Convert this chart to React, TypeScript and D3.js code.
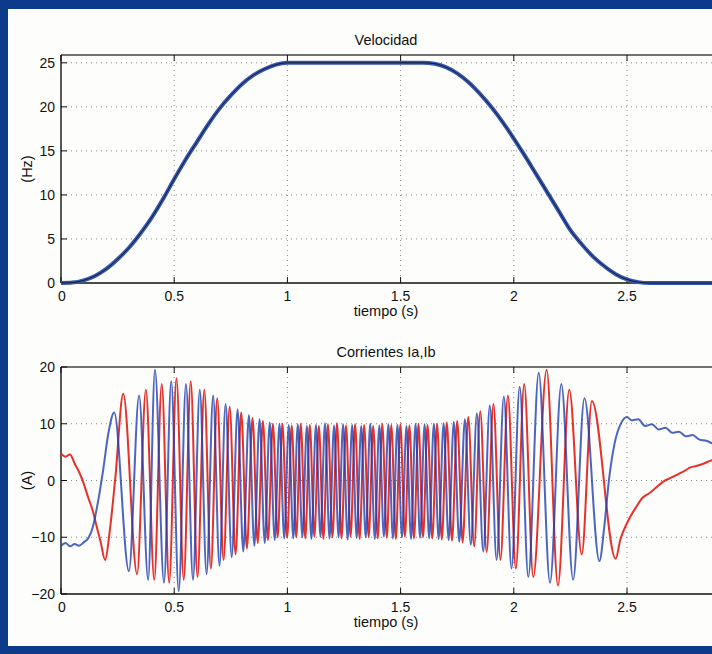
import { useEffect, useRef } from "react";
import * as d3 from "d3";

// velocity profile (s, Hz)
const velTime = [0, 0.05, 0.1, 0.15, 0.2, 0.25, 0.3, 0.35, 0.4, 0.45, 0.5, 0.55, 0.6, 0.65, 0.7, 0.75, 0.8, 0.85, 0.9, 0.95, 1.0, 1.2, 1.4, 1.6, 1.65, 1.7, 1.75, 1.8, 1.85, 1.9, 1.95, 2.0, 2.05, 2.1, 2.15, 2.2, 2.25, 2.3, 2.35, 2.4, 2.45, 2.5, 2.55, 2.6, 2.9];
const velHz = [0, 0.05, 0.3, 0.8, 1.6, 2.7, 4.0, 5.6, 7.4, 9.5, 11.8, 14.0, 16.0, 18.0, 19.8, 21.3, 22.6, 23.6, 24.3, 24.8, 25, 25, 25, 25, 24.9, 24.5, 23.8, 22.8, 21.5, 20.0, 18.3, 16.4, 14.4, 12.3, 10.2, 8.1, 6.0, 4.4, 3.0, 1.9, 1.0, 0.4, 0.1, 0, 0];

// current Ia (red): extrema and slow parts (s, A)
const iaTime = [0, 0.02, 0.04, 0.06, 0.08, 0.1, 0.12, 0.14, 0.16, 0.175, 0.195, 0.215, 0.24, 0.275, 0.336, 0.375, 0.412, 0.445, 0.478, 0.51, 0.542, 0.573, 0.603, 0.633, 0.662, 0.69, 0.718, 0.745, 0.771, 0.796, 0.821, 0.846, 0.869, 0.892, 0.914, 0.936, 0.957, 0.978, 0.999,
  1.019, 1.039, 1.059, 1.079, 1.099, 1.119, 1.139, 1.159, 1.179, 1.199, 1.219, 1.239, 1.259, 1.279, 1.299, 1.319, 1.339, 1.359, 1.379, 1.399, 1.419, 1.439, 1.459, 1.479, 1.499, 1.519, 1.539, 1.559, 1.579, 1.599, 1.619,
  1.64, 1.661, 1.682, 1.704, 1.727, 1.75, 1.774, 1.799, 1.825, 1.852, 1.88, 1.91, 1.941, 1.974, 2.009, 2.046, 2.086, 2.145, 2.195, 2.245, 2.3, 2.345, 2.45,
  2.47, 2.5, 2.54, 2.57, 2.6, 2.63, 2.66, 2.69, 2.72, 2.75, 2.78, 2.81, 2.84, 2.87, 2.92];
const iaAmp = [4.7, 4.2, 4.6, 3.0, 1.5, -0.5, -3.0, -5.3, -8.5, -10.8, -14.0, -9.0, 0.5, 15.3, -16.5, 16.0, -17.5, 17.0, -18.0, 18.0, -17.5, 17.5, -17.0, 16.0, -15.5, 14.5, -14.0, 13.0, -13.0, 12.0, -12.0, 11.0, -11.0, 10.5, -10.5, 10.0, -10.0, 10.0, -10.1,
  9.7, -10.0, 10.0, -10.2, 9.8, -9.9, 9.6, -10.3, 9.9, -10.0, 10.1, -10.2, 9.7, -9.9, 9.9, -10.3, 9.8, -10.0, 9.6, -10.2, 10.0, -10.1, 9.8, -10.3, 9.9, -9.9, 9.7, -10.2, 10.0, -10.0, 9.8,
  -10.2, 10.0, -10.4, 10.2, -10.6, 10.5, -10.9, 11.2, -11.6, 12.2, -12.6, 13.5, -14.0, 15.0, -15.5, 17.0, -17.0, 19.5, -18.5, 16.0, -13.0, 14.0, -13.8,
  -10.5, -7.5, -4.7, -3.0, -2.2, -1.2, -0.2, 0.4, 1.0, 1.6, 2.3, 2.6, 3.0, 3.5, 3.8];

// current Ib (blue)
const ibTime = [0, 0.02, 0.04, 0.06, 0.08, 0.1, 0.12, 0.14, 0.16, 0.186, 0.21, 0.235, 0.3, 0.345, 0.385, 0.415, 0.455, 0.487, 0.52, 0.552, 0.583, 0.613, 0.643, 0.672, 0.7, 0.727, 0.754, 0.78, 0.805, 0.83, 0.854, 0.877, 0.9, 0.922, 0.944, 0.965, 0.986,
  1.006, 1.026, 1.046, 1.066, 1.086, 1.106, 1.126, 1.146, 1.166, 1.186, 1.206, 1.226, 1.246, 1.266, 1.286, 1.306, 1.326, 1.346, 1.366, 1.386, 1.406, 1.426, 1.446, 1.466, 1.486, 1.506, 1.526, 1.546, 1.566, 1.586, 1.606, 1.626,
  1.647, 1.668, 1.69, 1.712, 1.735, 1.759, 1.784, 1.81, 1.837, 1.865, 1.894, 1.924, 1.956, 1.99, 2.026, 2.064, 2.11, 2.16, 2.21, 2.262, 2.312, 2.378,
  2.4, 2.42, 2.445, 2.475, 2.5, 2.52, 2.55, 2.58, 2.61, 2.64, 2.67, 2.7, 2.73, 2.76, 2.79, 2.82, 2.85, 2.88, 2.92];
const ibAmp = [-11.5, -11.0, -11.6, -11.2, -11.5, -10.9, -10.2, -8.3, -4.5, 1.8, 8.5, 12.0, -16.0, 15.0, -17.5, 19.5, -18.0, 17.5, -19.5, 17.0, -17.5, 16.0, -16.5, 15.0, -15.0, 13.5, -13.5, 12.5, -12.5, 11.5, -11.5, 10.8, -11.0, 10.2, -10.5, 10.0, -10.2,
  9.8, -10.2, 9.9, -10.0, 9.6, -10.3, 9.8, -9.9, 10.1, -10.2, 9.7, -10.0, 9.9, -10.4, 9.8, -10.1, 9.6, -10.0, 10.0, -10.3, 9.7, -9.9, 9.9, -10.2, 9.8, -10.0, 9.6, -10.3, 10.0, -10.1, 9.9, -10.2,
  10.0, -10.3, 10.1, -10.5, 10.3, -10.8, 10.8, -11.3, 11.8, -12.5, 13.2, -14.0, 14.8, -15.5, 16.5, -17.0, 19.0, -18.0, 17.0, -17.5, 14.5, -14.2,
  -8.0, 0.0, 6.5, 10.2, 11.2, 10.6, 10.8, 9.6, 9.9, 9.0, 9.3, 8.4, 8.6, 7.8, 8.0, 7.2, 7.0, 6.5, 6.2];

const timeTicks = [0, 0.5, 1, 1.5, 2, 2.5];
const velTicks = [0, 5, 10, 15, 20, 25];
const curTicks = [-20, -10, 0, 10, 20];

const W = 712;
const H = 654;
const font = "'Liberation Sans', Arial, Helvetica, sans-serif";

const App = () => {
  const ref = useRef<SVGSVGElement>(null);

  useEffect(() => {
    const svg = d3.select(ref.current);
    svg.selectAll("*").remove();

    // scanned page frame
    svg.append("rect").attr("width", W).attr("height", H).attr("fill", "#0c3b8c");
    svg.append("rect").attr("x", 8).attr("y", 9).attr("width", W - 8).attr("height", 637).attr("fill", "#fdfdfb");

    const x = d3.scaleLinear().domain([0, 3]).range([61, 61 + 3 * 226.4]);

    const panel = (top: number, bottom: number, y: d3.ScaleLinear<number, number>, yTicks: number[], title: string, yLabel: string) => {
      const g = svg.append("g");
      const right = W + 20;

      // dotted grid
      g.selectAll(".gx").data(timeTicks.slice(1)).join("line")
        .attr("x1", d => x(d)).attr("x2", d => x(d))
        .attr("y1", top).attr("y2", bottom)
        .attr("stroke", "#888").attr("stroke-width", 1).attr("stroke-dasharray", "1,4");
      g.selectAll(".gy").data(yTicks.slice(1, -1).concat(title === "Velocidad" ? [25] : [])).join("line")
        .attr("x1", x(0)).attr("x2", right)
        .attr("y1", d => y(d)).attr("y2", d => y(d))
        .attr("stroke", "#888").attr("stroke-width", 1).attr("stroke-dasharray", "1,4");

      // box
      g.append("line").attr("x1", x(0)).attr("x2", right).attr("y1", top).attr("y2", top).attr("stroke", "#444").attr("stroke-width", 1.3);
      g.append("line").attr("x1", x(0)).attr("x2", right).attr("y1", bottom).attr("y2", bottom).attr("stroke", "#111").attr("stroke-width", 1.4);
      g.append("line").attr("x1", x(0)).attr("x2", x(0)).attr("y1", top).attr("y2", bottom).attr("stroke", "#111").attr("stroke-width", 1.4);

      // inward ticks
      g.selectAll(".tb").data(timeTicks).join("line")
        .attr("x1", d => x(d)).attr("x2", d => x(d)).attr("y1", bottom).attr("y2", bottom - 6).attr("stroke", "#111");
      g.selectAll(".tt").data(timeTicks).join("line")
        .attr("x1", d => x(d)).attr("x2", d => x(d)).attr("y1", top).attr("y2", top + 6).attr("stroke", "#111");
      g.selectAll(".tl").data(yTicks).join("line")
        .attr("x1", x(0)).attr("x2", x(0) + 6).attr("y1", d => y(d)).attr("y2", d => y(d)).attr("stroke", "#111");

      // tick labels
      g.selectAll(".xl").data(timeTicks).join("text")
        .attr("x", d => x(d) + (d === 0 ? 1 : 0)).attr("y", bottom + 18)
        .attr("text-anchor", "middle").attr("font-family", font).attr("font-size", 14).attr("fill", "#111")
        .text(d => String(d));
      g.selectAll(".yl").data(yTicks).join("text")
        .attr("x", x(0) - 6).attr("y", d => y(d)).attr("dy", "0.36em")
        .attr("text-anchor", "end").attr("font-family", font).attr("font-size", 14).attr("fill", "#111")
        .text(d => (d < 0 ? "\u2212" + Math.abs(d) : String(d)));

      g.append("text").attr("x", 386).attr("y", top - 10).attr("text-anchor", "middle")
        .attr("font-family", font).attr("font-size", 14.5).attr("fill", "#111").text(title);
      g.append("text").attr("x", 386).attr("y", bottom + 33).attr("text-anchor", "middle")
        .attr("font-family", font).attr("font-size", 14.5).attr("fill", "#111").text("tiempo (s)");
      g.append("text").attr("transform", `translate(27,${(top + bottom) / 2}) rotate(-90)`)
        .attr("text-anchor", "middle").attr("dy", "0.35em")
        .attr("font-family", font).attr("font-size", 14.5).attr("fill", "#111").text(yLabel);
      return g;
    };

    // top: velocity
    const yVel = d3.scaleLinear().domain([0, 26]).range([283, 54]);
    const top = panel(55, 283, yVel, velTicks, "Velocidad", "(Hz)");
    const velLine = d3.line<number>().x((d, i) => x(velTime[i])).y(d => yVel(d)).curve(d3.curveMonotoneX);
    top.append("path").attr("d", velLine(velHz)).attr("fill", "none").attr("stroke", "#3557b0").attr("stroke-width", 4);
    top.append("path").attr("d", velLine(velHz)).attr("fill", "none").attr("stroke", "#151a30").attr("stroke-width", 1);

    // bottom: currents
    const yCur = d3.scaleLinear().domain([-20, 20]).range([594, 367]);
    const bot = panel(367, 594, yCur, curTicks, "Corrientes Ia,Ib", "(A)");
    const curLine = (ts: number[]) => d3.line<number>().x((d, i) => x(ts[i])).y(d => yCur(d)).curve(d3.curveMonotoneX);
    bot.append("path").attr("d", curLine(iaTime)(iaAmp)).attr("fill", "none").attr("stroke", "#e4261e").attr("stroke-width", 2).attr("opacity", 0.95);
    bot.append("path").attr("d", curLine(ibTime)(ibAmp)).attr("fill", "none").attr("stroke", "#1f3fb3").attr("stroke-width", 2).attr("opacity", 0.8);
  }, []);

  return (
    <svg ref={ref} width={W} height={H} style={{ position: "absolute", left: 0, top: 0 }} />
  );
};

export default App;
